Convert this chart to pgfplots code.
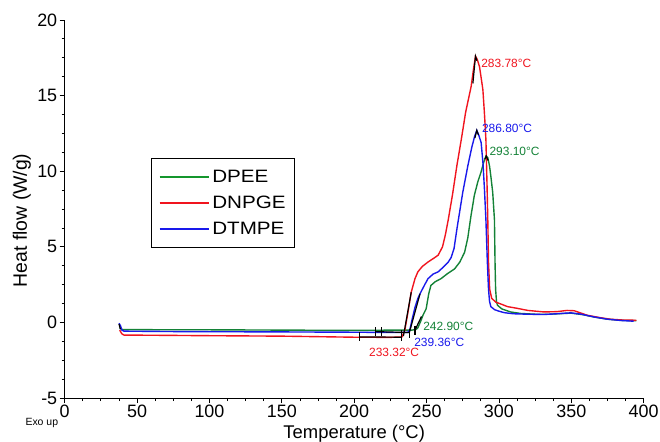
\documentclass[border=0pt]{standalone}
\usepackage{fontspec}
\setmainfont{Liberation Sans}
\newfontfamily\legfont{Liberation Sans}[FakeStretch=1.15]
\usepackage{pgfplots}
\pgfplotsset{compat=1.18}
\definecolor{cgreen}{RGB}{20,130,55}
\definecolor{lgreen}{RGB}{20,150,45}
\definecolor{cred}{RGB}{240,20,30}
\definecolor{cblue}{RGB}{25,25,235}
\begin{document}
\begin{tikzpicture}
\begin{axis}[
  width=581.6pt, height=380pt, scale only axis,
  xmin=0, xmax=400, ymin=-5, ymax=20,
  axis x line*=bottom, axis y line*=left,
  axis line style={black, line width=1pt},
  xtick={0,50,...,400}, ytick={-5,0,...,20},
  minor tick num=3,
  tick align=outside,
  major tick length=5pt, minor tick length=3pt,
  tick style={black, line width=0.8pt},
  /pgf/number format/assume math mode=true,
  tick label style={font=\fontsize{18}{20}\selectfont},
  xticklabel style={yshift=2pt},
  yticklabel style={xshift=1pt},
  xlabel={Temperature (°C)},
  ylabel={Heat flow (W/g)},
  xlabel style={font=\fontsize{18.5}{21}\selectfont, at={(axis description cs:0.5,0)}, anchor=north, yshift=-24pt},
  ylabel style={font=\fontsize{19.5}{22}\selectfont, at={(axis description cs:-0.074,0.47)}, anchor=center},
  clip=false,
  legend style={at={(0.1496,0.635)}, anchor=north west, draw=black, line width=0.6pt,
    font=\legfont\fontsize{18}{20}\selectfont, inner xsep=7pt, inner ysep=10pt, row sep=8pt},
  legend cell align=left,
  legend image code/.code={\draw[#1] (0pt,0pt) -- (50pt,0pt);},
  every axis plot/.append style={line width=1.4pt},
]
\addlegendimage{lgreen, line width=2pt}
\addlegendentry{DPEE}
\addlegendimage{cred, line width=2pt}
\addlegendentry{DNPGE}
\addlegendimage{cblue, line width=2pt}
\addlegendentry{DTMPE}
% DPEE
\addplot[cgreen, forget plot] coordinates {
(38,-0.35) (39.5,-0.45) (41,-0.47) (100,-0.48) (150,-0.5) (200,-0.52) (230,-0.5) (240,-0.5)
(242.8,-0.45) (244,-0.35) (246,0.1) (247.6,0.5) (249.7,0.9) (251.5,1.9) (253,2.45) (256,2.7)
(260,2.9) (264,3.2) (269.4,3.55) (273,4.0) (276.3,4.65) (278.5,5.6) (280.6,7.0) (283,8.4)
(285.4,9.3) (287.5,9.9) (289.5,10.6) (291,11.0) (292.3,10.9) (293.5,10.35) (294.5,9.6)
(295.7,8.6) (296.9,6.8) (297.3,4) (297.7,2.2) (298.3,1.4) (299,1.14) (302,0.9) (305,0.8)
(308,0.7) (315,0.6) (325,0.55) (335,0.55) (345,0.6) (350,0.62) (358,0.52) (366,0.36)
(375,0.22) (385,0.14) (395,0.12)
};
% DNPGE
\addplot[cred, forget plot] coordinates {
(38,-0.5) (39.5,-0.75) (41,-0.83) (60,-0.84) (100,-0.87) (150,-0.9) (200,-0.97) (225,-0.98)
(233,-0.95) (235,-0.5) (237,0.6) (239.4,2.0) (242,2.9) (244,3.35) (247,3.7) (251,4.0)
(255,4.25) (258,4.45) (261,5.0) (263,5.8) (265,6.8) (268,8.5) (271,10.4) (274,12.1)
(277,13.9) (280.8,15.6) (282.5,16.8) (283.8,17.6) (285,17.4) (286.6,16.9) (288.9,15.4)
(290,13.8) (291,12.1) (291.8,9) (292.3,6.8) (292.8,4) (293.6,2.2) (295,1.6) (297.8,1.35)
(302,1.2) (306,1.05) (312,0.95) (320,0.8) (331,0.7) (340,0.72) (347,0.8) (352,0.78)
(361,0.48) (370,0.32) (377,0.22) (385,0.17) (395,0.15)
};
% DTMPE
\addplot[cblue, forget plot] coordinates {
(37.5,-0.05) (38.5,-0.2) (39.5,-0.5) (41,-0.57) (80,-0.6) (150,-0.62) (200,-0.64) (230,-0.66)
(237,-0.65) (238.4,-0.5) (240,0.2) (242,1.0) (244,1.6) (246,2.0) (249,2.55) (251,2.9)
(254.5,3.2) (258,3.35) (262,3.7) (265,4.0) (267,4.3) (269,4.9) (271,6.2) (273,7.4) (275,8.6)
(278.5,10.35) (281.3,11.6) (283.2,12.3) (284.7,12.7) (286,12.4) (287.7,11.9) (289,10.5)
(290,8.8) (291,6.8) (292,4.0) (292.8,2.2) (293.5,1.4) (294.4,1.05) (297,0.85) (300,0.75)
(303.8,0.65) (310,0.58) (320,0.55) (331,0.53) (340,0.58) (349.6,0.64) (357,0.55)
(365.6,0.37) (375,0.22) (385,0.13) (393,0.09)
};
% black analysis marks
\addplot[black, line width=1.2pt, forget plot] coordinates {(203.4,-0.65) (203.4,-1.25)};
\addplot[black, line width=1.2pt, forget plot] coordinates {(203.4,-0.95) (233,-0.97)};
\addplot[black, line width=1.2pt, forget plot] coordinates {(214.6,-0.3) (214.6,-0.9)};
\addplot[black, line width=1.2pt, forget plot] coordinates {(218.8,-0.3) (218.8,-0.9)};
\addplot[black, line width=1.2pt, forget plot] coordinates {(214.6,-0.6) (238,-0.66)};
\addplot[black, line width=1.2pt, forget plot] coordinates {(232.6,-0.5) (232.6,-1.2)};
\addplot[black, line width=1.2pt, forget plot] coordinates {(238.4,-0.4) (238.4,-1.0)};
\addplot[black, line width=1.2pt, forget plot] coordinates {(242,-0.2) (242,-0.8)};
\addplot[black, line width=1.2pt, forget plot] coordinates {(234,-0.9) (239.4,2.0)};
\addplot[black, line width=1.2pt, forget plot] coordinates {(238,-0.7) (245.5,1.9)};
\addplot[black, line width=1.2pt, forget plot] coordinates {(242,-0.5) (246.5,0.4)};
\addplot[black, line width=1.2pt, forget plot] coordinates {(282,15.8) (283.8,17.6) (284.8,17.3)};
\addplot[black, line width=1.2pt, forget plot] coordinates {(283.4,12.2) (284.7,12.7) (285.8,12.4)};
\addplot[black, line width=1.2pt, forget plot] coordinates {(290.3,10.8) (291.3,11.0) (292.6,10.7)};
\addplot[black, line width=1.2pt, forget plot] coordinates {(37.5,-0.1) (38.5,-0.45)};
% annotations
\node[anchor=west, text=cred, font=\fontsize{12}{14}\selectfont, inner sep=0pt] at (axis cs:287.7,17.15) {283.78°C};
\node[anchor=west, text=cblue, font=\fontsize{12}{14}\selectfont, inner sep=0pt] at (axis cs:288.2,12.8) {286.80°C};
\node[anchor=west, text=cgreen, font=\fontsize{12}{14}\selectfont, inner sep=0pt] at (axis cs:293.4,11.33) {293.10°C};
\node[anchor=west, text=cgreen, font=\fontsize{12}{14}\selectfont, inner sep=0pt] at (axis cs:247.6,-0.28) {242.90°C};
\node[anchor=west, text=cblue, font=\fontsize{12}{14}\selectfont, inner sep=0pt] at (axis cs:241.4,-1.32) {239.36°C};
\node[anchor=west, text=cred, font=\fontsize{12}{14}\selectfont, inner sep=0pt] at (axis cs:210.2,-1.97) {233.32°C};
\node[font=\fontsize{10.5}{12}\selectfont] at ([xshift=-23pt,yshift=-25pt]rel axis cs:0,0) {Exo up};
\coordinate (o) at (rel axis cs:0,0);
\end{axis}
\pgfresetboundingbox
\path[use as bounding box] ([shift={(-65pt,-44pt)}]o) rectangle ([shift={(598pt,400pt)}]o);
\end{tikzpicture}
\end{document}
